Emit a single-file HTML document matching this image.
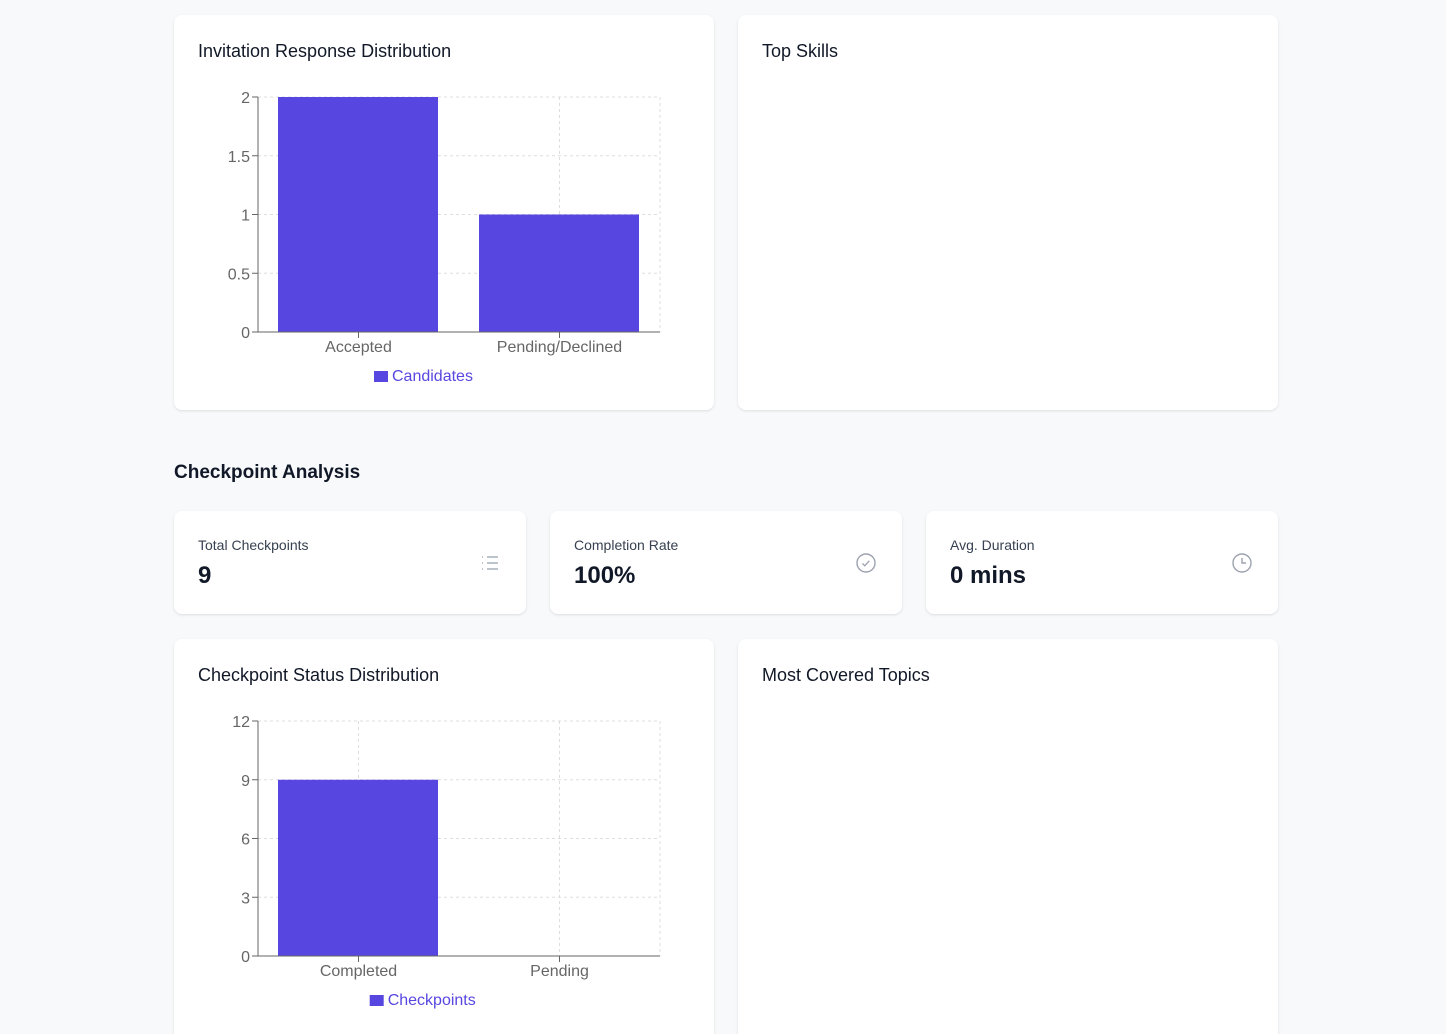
<!DOCTYPE html>
<html><head><meta charset="utf-8"><style>
*{box-sizing:border-box;margin:0;padding:0}
html,body{width:1446px;height:1034px;overflow:hidden}
body{background:#f8f9fb;font-family:"Liberation Sans",sans-serif;color:#111827;position:relative}
.card{position:absolute;background:#fff;border-radius:8px;box-shadow:0 1px 3px rgba(0,0,0,.08),0 1px 2px rgba(0,0,0,.04)}
.ct{position:absolute;left:24px;top:26px;font-size:18px;font-weight:500;color:#111827}
.sl{position:absolute;left:24px;top:26px;font-size:14px;color:#374151}
.sv{position:absolute;left:24px;top:51px;font-size:24px;font-weight:700;color:#111827}
.ic{position:absolute;right:24px;top:40px}
svg text{font-family:"Liberation Sans",sans-serif}
</style></head><body>
<div class="card" style="left:174px;top:15px;width:540px;height:395px">
 <div class="ct">Invitation Response Distribution</div>
 <svg id="c1" width="540" height="395" style="position:absolute;left:0;top:0"></svg>
</div>
<div class="card" style="left:738px;top:15px;width:540px;height:395px">
 <div class="ct">Top Skills</div>
</div>
<div style="position:absolute;left:174px;top:462px;font-size:19px;font-weight:700">Checkpoint Analysis</div>
<div class="card" style="left:174px;top:511px;width:352px;height:103px">
 <div class="sl">Total Checkpoints</div><div class="sv">9</div>
 <svg class="ic" width="20" height="20" viewBox="0 0 20 20" style="top:42px;right:26px"><g stroke="#9ca3af" stroke-width="1.3"><line x1="7" y1="4" x2="18" y2="4"/><line x1="7" y1="10" x2="18" y2="10"/><line x1="7" y1="16" x2="18" y2="16"/><line x1="2" y1="4" x2="3" y2="4"/><line x1="2" y1="10" x2="3" y2="10"/><line x1="2" y1="16" x2="3" y2="16"/></g></svg>
</div>
<div class="card" style="left:550px;top:511px;width:352px;height:103px">
 <div class="sl">Completion Rate</div><div class="sv">100%</div>
 <svg class="ic" width="22" height="22" viewBox="0 0 22 22" style="top:41px;right:25px"><circle cx="11" cy="11" r="9" fill="none" stroke="#9ca3af" stroke-width="1.4"/><path d="M7.5 11.5l2.3 2.3 4.5-5" fill="none" stroke="#9ca3af" stroke-width="1.3"/></svg>
</div>
<div class="card" style="left:926px;top:511px;width:352px;height:103px">
 <div class="sl">Avg. Duration</div><div class="sv">0 mins</div>
 <svg class="ic" width="22" height="22" viewBox="0 0 22 22" style="top:41px;right:25px"><circle cx="11" cy="11" r="9" fill="none" stroke="#9ca3af" stroke-width="1.4"/><path d="M11 6v5h4" fill="none" stroke="#9ca3af" stroke-width="1.4"/></svg>
</div>
<div class="card" style="left:174px;top:639px;width:540px;height:403px">
 <div class="ct">Checkpoint Status Distribution</div>
 <svg id="c2" width="540" height="395" style="position:absolute;left:0;top:0"></svg>
</div>
<div class="card" style="left:738px;top:639px;width:540px;height:403px">
 <div class="ct">Most Covered Topics</div>
</div>
<script>
const inviteCategories=["Accepted","Pending/Declined"];
const inviteValues=[2,1];
const inviteTicks=[0,0.5,1,1.5,2];
const cpCategories=["Completed","Pending"];
const cpValues=[9,0];
const cpTicks=[0,3,6,9,12];
const NS="http://www.w3.org/2000/svg";
function mk(p,t,a){const e=document.createElementNS(NS,t);for(const k in a)e.setAttribute(k,a[k]);p.appendChild(e);return e;}
function chart(id,cats,vals,ticks,legend,top){
 const s=document.getElementById(id);
 const L=84,R=486,T=top,B=top+235,max=ticks[ticks.length-1];
 const y=v=>B-(v/max)*(B-T);
 const bw=(R-L)/cats.length;
 const x=i=>L+bw*i;
 ticks.forEach(t=>{
  if(t>0){const g=mk(s,'line',{x1:L,x2:R,y1:y(t),y2:y(t),stroke:'#ddd','stroke-dasharray':'3 3'});}
  mk(s,'line',{x1:L-6,x2:L,y1:y(t),y2:y(t),stroke:'#666'});
  const tx=mk(s,'text',{x:L-8,y:y(t)+6,'text-anchor':'end','font-size':16,fill:'#666'});tx.textContent=t;
  
 });
 cats.forEach((c,i)=>{const cx=x(i)+bw/2;mk(s,'line',{x1:cx,x2:cx,y1:T,y2:B,stroke:'#ddd','stroke-dasharray':'3 3'});});
 mk(s,'line',{x1:R,x2:R,y1:T,y2:B,stroke:'#ddd','stroke-dasharray':'3 3'});
 vals.forEach((v,i)=>{
  const r=mk(s,'rect',{x:x(i)+20,y:y(v),width:bw-41,height:B-y(v),fill:'#5747e0'});
  
  
 });
 mk(s,'line',{x1:L,x2:L,y1:T,y2:B,stroke:'#666'});
 mk(s,'line',{x1:L,x2:R,y1:B,y2:B,stroke:'#666'});
 cats.forEach((c,i)=>{const cx=x(i)+bw/2;mk(s,'line',{x1:cx,x2:cx,y1:B,y2:B+6,stroke:'#666'});
  const tx=mk(s,'text',{x:cx,y:B+20,'text-anchor':'middle','font-size':16,fill:'#666'});tx.textContent=c;
  });
 const lw=legend.length*8.6+18;const lx=252-lw/2+4;
 const lr=mk(s,'rect',{x:lx-4,y:B+39,width:14,height:11,fill:'#5747e0'});
 
 const lt=mk(s,'text',{x:lx+14,y:B+49,'font-size':16,fill:'#5747e0'});lt.textContent=legend;
 
}
chart('c1',inviteCategories,inviteValues,inviteTicks,'Candidates',82);
chart('c2',cpCategories,cpValues,cpTicks,'Checkpoints',82);
</script>
</body></html>
